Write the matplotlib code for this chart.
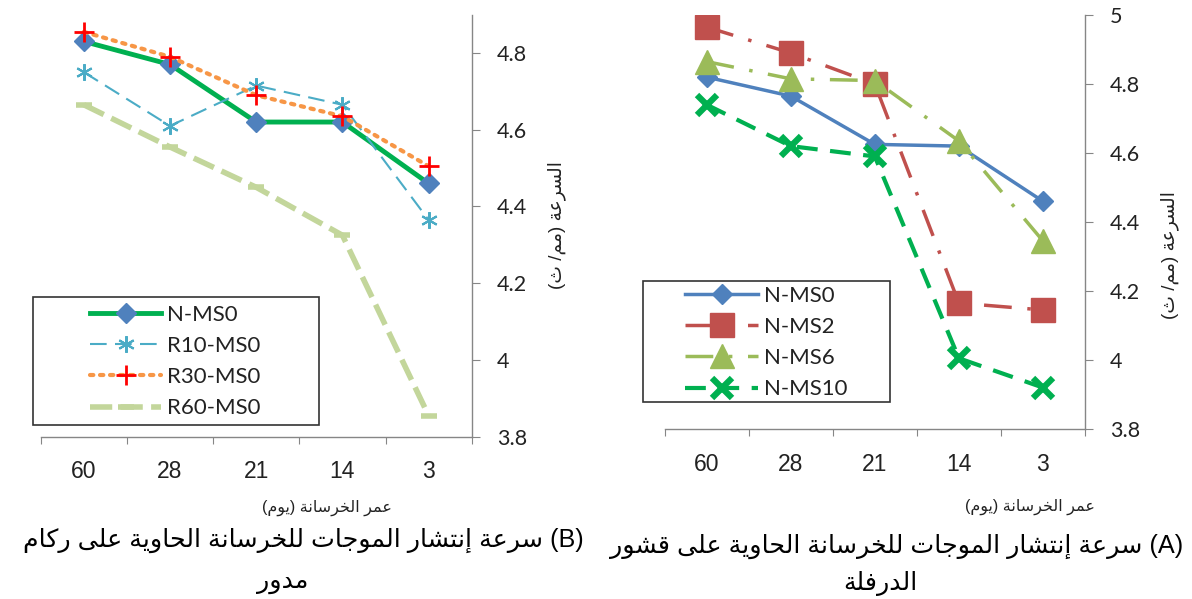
import numpy as np
import matplotlib.pyplot as plt
from matplotlib.patches import Rectangle

plt.rcParams['font.family'] = ['Liberation Sans', 'DejaVu Sans']

# concrete age (days), same categories on both panels
ages = ['60', '28', '21', '14', '3']

# (A) concrete with mill scale - pulse velocity (km/s)
a_labels = ['N-MS0', 'N-MS2', 'N-MS6', 'N-MS10']
a_ms0 = [4.82, 4.765, 4.625, 4.62, 4.46]
a_ms2 = [4.965, 4.89, 4.80, 4.165, 4.145]
a_ms6 = [4.865, 4.815, 4.81, 4.635, 4.345]
a_ms10 = [4.74, 4.62, 4.59, 4.005, 3.92]

# (B) concrete with recycled aggregate
b_labels = ['N-MS0', 'R10-MS0', 'R30-MS0', 'R60-MS0']
b_n = [4.83, 4.77, 4.62, 4.62, 4.46]
b_r10 = [4.75, 4.61, 4.715, 4.665, 4.365]
b_r30 = [4.855, 4.79, 4.69, 4.635, 4.505]
b_r60 = [4.665, 4.555, 4.45, 4.325, 3.855]

yticks_a = [3.8, 4, 4.2, 4.4, 4.6, 4.8, 5]
yticks_b = [3.8, 4, 4.2, 4.4, 4.6, 4.8]

# arabic text: matplotlib has no shaping, so pick presentation forms by hand
DUAL = {'ب': 0xFE8F, 'ت': 0xFE95, 'ث': 0xFE99, 'ج': 0xFE9D, 'ح': 0xFEA1,
        'خ': 0xFEA5, 'س': 0xFEB1, 'ش': 0xFEB5, 'ع': 0xFEC9, 'ف': 0xFED1,
        'ق': 0xFED5, 'ك': 0xFED9, 'ل': 0xFEDD, 'م': 0xFEE1, 'ن': 0xFEE5,
        'ه': 0xFEE9, 'ي': 0xFEF1}
RIGHT = {'ا': 0xFE8D, 'إ': 0xFE87, 'ة': 0xFE93, 'د': 0xFEA9, 'ر': 0xFEAD,
         'و': 0xFEED, 'ى': 0xFEEF}


def ar(text):
    out = []
    for i, c in enumerate(text):
        prev = text[i - 1] if i > 0 else ''
        nxt = text[i + 1] if i + 1 < len(text) else ''
        jp = prev in DUAL
        jn = nxt in DUAL or nxt in RIGHT
        if c in DUAL:
            b = DUAL[c]
            c = chr(b + 3 if jp and jn else b + 1 if jp else b + 2 if jn else b)
        elif c in RIGHT:
            c = chr(RIGHT[c] + (1 if jp else 0))
        out.append(c)
    swap = {'(': ')', ')': '('}
    return ''.join(swap.get(c, c) for c in reversed(out))


ylab = 'السرعة (مم/ ث)'
xlab = 'عمر الخرسانة (يوم)'
cap_a = ['سرعة إنتشار الموجات للخرسانة الحاوية على قشور', 'الدرفلة']
cap_b = ['سرعة إنتشار الموجات للخرسانة الحاوية على ركام', 'مدور']

grey = '#868686'
txt = '#222222'
W, H = 1192, 599

fig = plt.figure(figsize=(11.92, 5.99), dpi=100)
ax_b = fig.add_axes([40.7 / W, 1 - 436.7 / H, 431 / W, 422.1 / H])
ax_a = fig.add_axes([664.6 / W, 1 - 429 / H, 420.4 / W, 414 / H])

x = np.arange(len(ages))


def style(ax, yticks, ymax):
    ax.set_xlim(-0.5, 4.5)
    ax.set_ylim(3.8, ymax)
    for s in ['left', 'top']:
        ax.spines[s].set_visible(False)
    for s in ['right', 'bottom']:
        ax.spines[s].set_color(grey)
        ax.spines[s].set_linewidth(1)
    ax.yaxis.tick_right()
    ax.set_yticks(yticks)
    ax.set_yticklabels([f'{v:g}' for v in yticks], fontsize=15.5,
                       color=txt, family=['Lato', 'DejaVu Sans'])
    ax.tick_params(axis='y', direction='out', length=6, color=grey, pad=12)
    ax.set_xticks(np.arange(-0.5, 5, 1))
    ax.set_xticklabels([])
    ax.tick_params(axis='x', which='major', direction='out', length=5, color=grey)
    ax.set_xticks(x, minor=True)
    ax.set_xticklabels(ages, minor=True, fontsize=16.5, color=txt)
    ax.tick_params(axis='x', which='minor', length=0, pad=17)


# panel A
ax_a.plot(x, a_ms0, color='#4F81BD', lw=2.5, marker='D', ms=10, label=a_labels[0])
ax_a.plot(x, a_ms2, color='#C0504D', lw=2.5, dashes=(8, 4.5, 1, 4.5), marker='s', ms=17.5,
          label=a_labels[1])
ax_a.plot(x, a_ms6, color='#9BBB59', lw=2.5, dashes=(8, 4.5, 1, 4.5), marker='^', ms=17.5,
          label=a_labels[2])
ax_a.plot(x, a_ms10, color='#00B050', lw=3, dashes=(5, 3), marker='x', ms=15, mew=4.5,
          label=a_labels[3])
style(ax_a, yticks_a, 5.0)

# panel B
ax_b.plot(x, b_n, color='#00B050', lw=3.5, marker='D', ms=10, mfc='#4F81BD',
          mec='#4F81BD', label=b_labels[0])
ax_b.plot(x, b_r10, color='#4BACC6', lw=1.5, dashes=(8, 4), marker=(6, 2, 0), ms=12,
          mew=1.5, label=b_labels[1])
ax_b.plot(x, b_r30, color='#F79646', lw=3, linestyle=(0, (0.8, 1.6)),
          dash_capstyle='round', marker='+', ms=14, mew=2, mec='#FF0000',
          label=b_labels[2])
ax_b.plot(x, b_r60, color='#C3D69B', lw=4, dashes=(4, 1.5), marker='_', ms=12, mew=4,
          label=b_labels[3])
style(ax_b, yticks_b, 4.9)

# legends (Excel style box, wider than its content)
fig.patches.append(Rectangle((32.7 / W, 1 - 425 / H), 286.3 / W, 128 / H,
                             transform=fig.transFigure, fill=False,
                             edgecolor='#333333', lw=1.2))
fig.patches.append(Rectangle((642.7 / W, 1 - 401.7 / H), 247.3 / W, 121 / H,
                             transform=fig.transFigure, fill=False,
                             edgecolor='#333333', lw=1.2))
for ax, x0, y0, hl, sp in [(ax_b, 90, 305, 3.2, 0.5), (ax_a, 685, 286, 3.3, 0.5)]:
    leg = ax.legend(loc='upper left', bbox_to_anchor=(x0 / W, 1 - y0 / H),
                    bbox_transform=fig.transFigure, frameon=False, borderpad=0,
                    borderaxespad=0, handlelength=hl, handletextpad=0.25,
                    labelspacing=sp, prop={'family': ['Lato', 'DejaVu Sans'], 'size': 16})
    for t in leg.get_texts():
        t.set_color(txt)

# axis titles
fig.text(557 / W, 1 - 225 / H, ar(ylab), rotation=90, ha='center', va='center',
         fontsize=13.5, color=txt)
fig.text(1170 / W, 1 - 255 / H, ar(ylab), rotation=90, ha='center', va='center',
         fontsize=13.5, color=txt)
fig.text(327 / W, 1 - 508 / H, ar(xlab), ha='center', va='center', fontsize=11.5, color=txt)
fig.text(1030 / W, 1 - 507 / H, ar(xlab), ha='center', va='center', fontsize=11.5, color=txt)

# captions
fig.text(303 / W, 1 - 540 / H, ar(cap_b[0]) + ' (B)', ha='center', va='center',
         fontsize=18.2, color='black')
fig.text(283 / W, 1 - 582 / H, ar(cap_b[1]), ha='center', va='center',
         fontsize=18.2, color='black')
fig.text(897 / W, 1 - 546 / H, ar(cap_a[0]) + ' (A)', ha='center', va='center',
         fontsize=18.2, color='black')
fig.text(880 / W, 1 - 583 / H, ar(cap_a[1]), ha='center', va='center',
         fontsize=18.2, color='black')

fig.savefig('out.png', dpi=100)
